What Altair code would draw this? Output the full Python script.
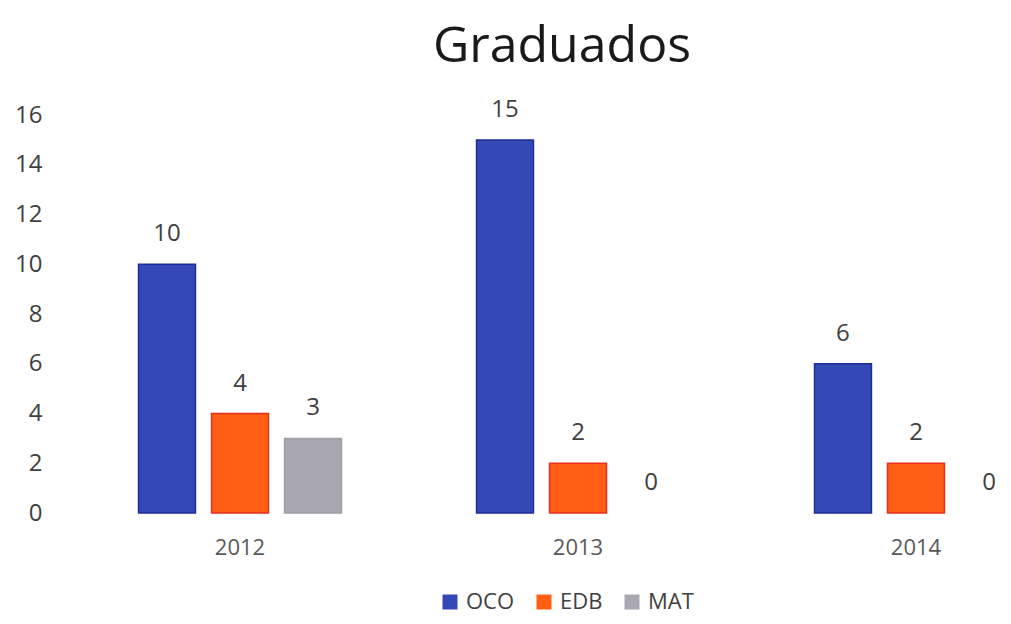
import altair as alt
import pandas as pd

years = ["2012", "2013", "2014"]
series = ["OCO", "EDB", "MAT"]
oco = [10, 15, 6]
edb = [4, 2, 2]
mat = [3, 0, 0]
colors = ["#3549B5", "#FF5E14", "#A9A7B0"]
strokes = ["#1E2C96", "#E8301C", "#A09EA8"]

rows = []
for i, y in enumerate(years):
    for s, vals in zip(series, [oco, edb, mat]):
        rows.append({"Año": y, "Serie": s, "Valor": vals[i]})
df = pd.DataFrame(rows)

FONT = "Open Sans"

x = alt.X("Año:N", title=None, sort=years,
          scale=alt.Scale(range=[0, 1046], paddingInner=0.352, paddingOuter=0.2234),
          axis=alt.Axis(labelAngle=0, ticks=False, domain=False, labelPadding=24,
                        labelFontSize=22, labelColor="#595959", labelFont=FONT))
xo = alt.XOffset("Serie:N", sort=series,
                 scale=alt.Scale(paddingInner=0.22, paddingOuter=0.11))
y = alt.Y("Valor:Q", title=None,
          scale=alt.Scale(domain=[0, 16]),
          axis=alt.Axis(values=list(range(0, 17, 2)), ticks=False, domain=False, grid=False,
                        labelPadding=13, labelFontSize=24, labelColor="#404040", labelFont=FONT))

bars = alt.Chart(df).mark_bar(strokeWidth=1.5).encode(
    x=x, xOffset=xo, y=y,
    color=alt.Color("Serie:N", sort=series,
                    scale=alt.Scale(domain=series, range=colors),
                    legend=alt.Legend(title=None, orient="none", direction="horizontal",
                                      legendX=384, legendY=476, symbolType="square",
                                      symbolSize=225, symbolStrokeWidth=0,
                                      labelFontSize=22, labelColor="#404040", labelFont=FONT,
                                      columnPadding=18, labelOffset=5, labelLimit=200)),
    stroke=alt.Stroke("Serie:N", sort=series,
                      scale=alt.Scale(domain=series, range=strokes), legend=None),
    strokeOpacity=alt.condition("datum.Valor > 0", alt.value(1), alt.value(0)),
)

labels = alt.Chart(df).mark_text(dy=-30, fontSize=24, color="#404040", font=FONT,
                                 baseline="middle").encode(
    x=x, xOffset=xo, y=y, text="Valor:Q")

chart = (bars + labels).properties(
    width=948, height=398,
    background="white",
    padding={"left": 47, "top": 107, "right": 0, "bottom": 103},
    autosize=alt.AutoSizeParams(type="none"),
    title=alt.TitleParams("Graduados", fontSize=50, font=FONT, fontWeight="normal",
                          color="#1a1a1a", anchor="middle", dx=33, offset=26),
).configure_view(strokeWidth=0, stroke="transparent")

chart.save("out.html", embed_options={"renderer": "svg", "actions": False})
